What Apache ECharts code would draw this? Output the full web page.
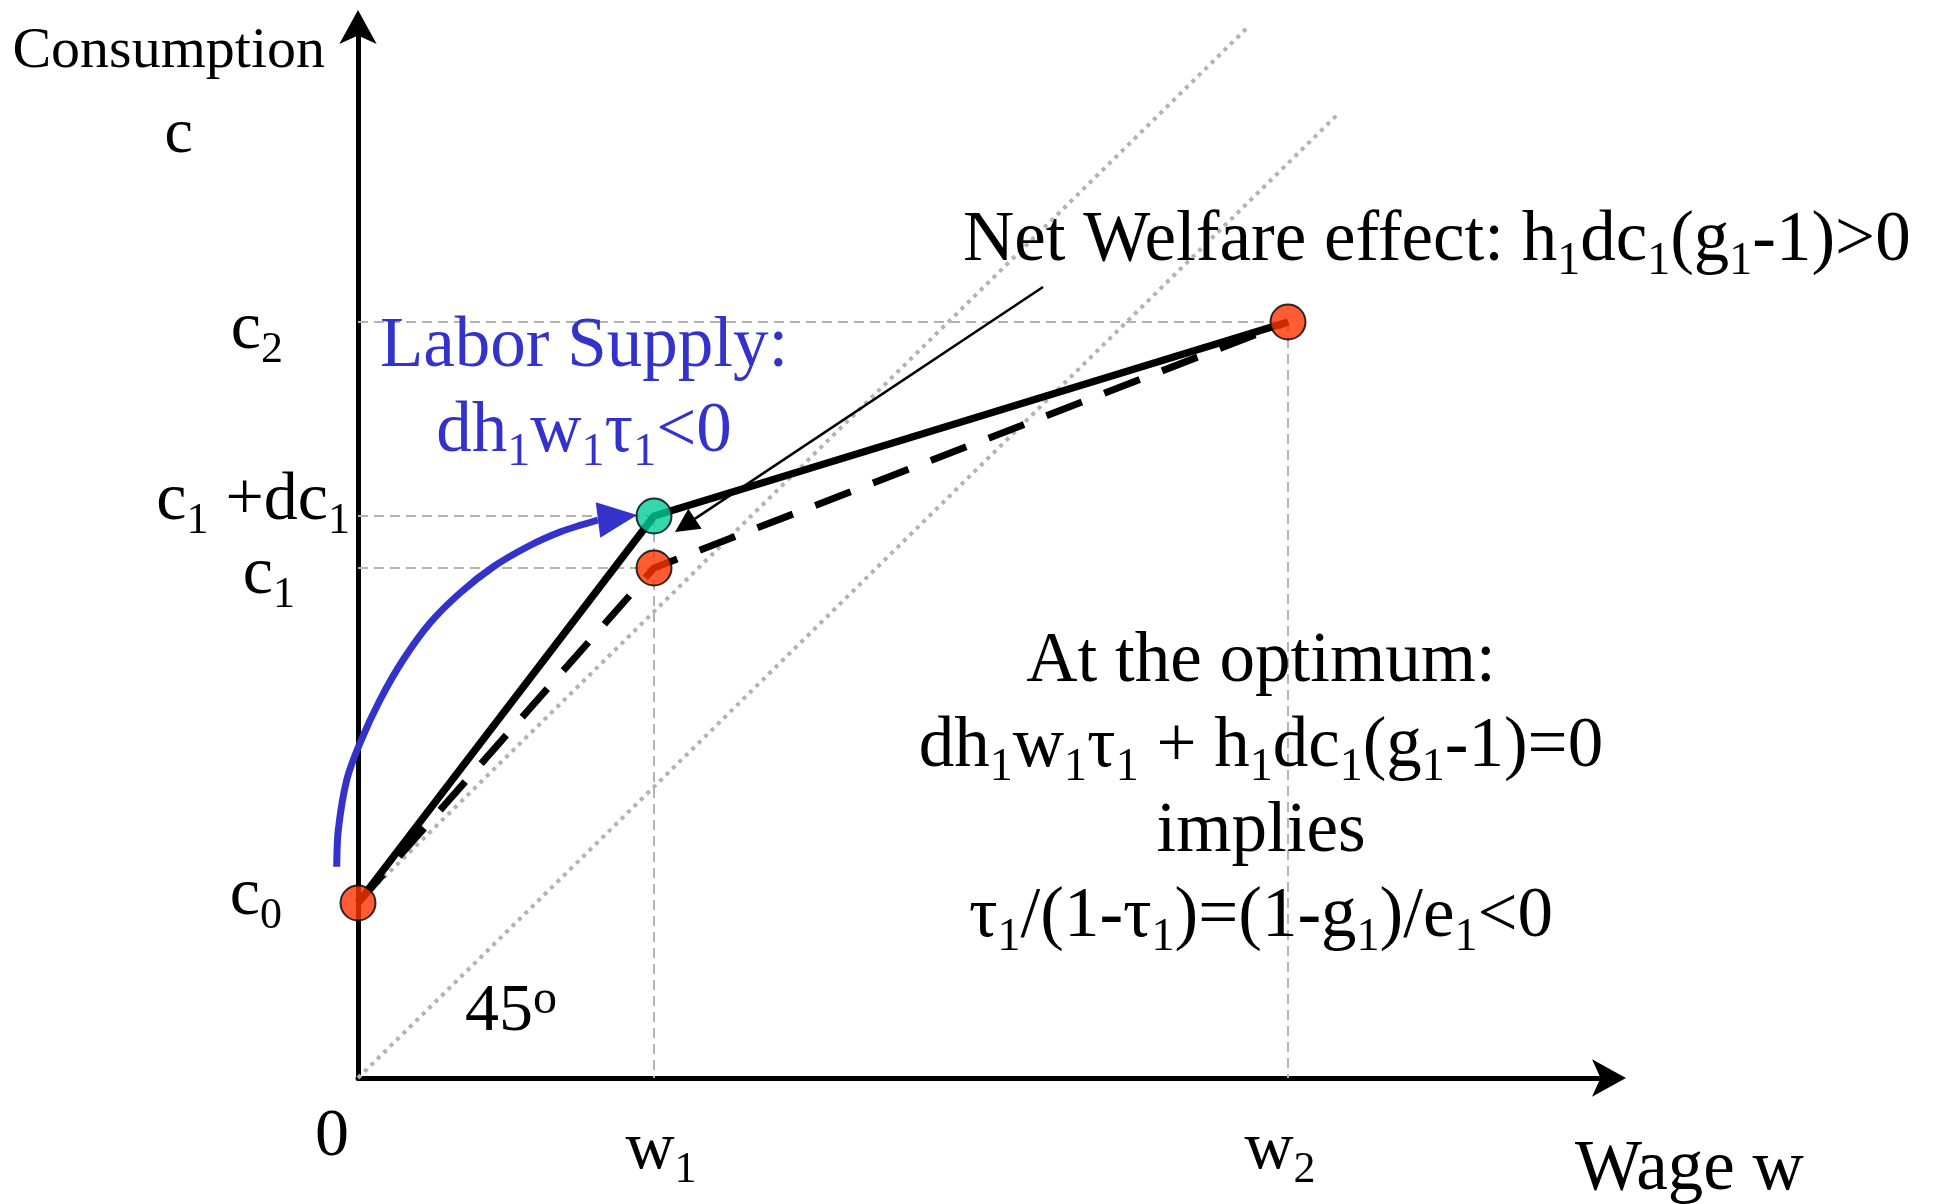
<!DOCTYPE html>
<html><head><meta charset="utf-8">
<script src="https://cdn.jsdelivr.net/npm/echarts@6/dist/echarts.min.js"></script>
<style>html,body{margin:0;padding:0;background:#fff}#c{width:1940px;height:1204px}</style>
</head><body><div id="c"></div>
<script>
// ---------------- data (axis units) ----------------
const wageTicks = [0, 2.96, 9.30];
const wageTickLabels = ['0', 'w_1', 'w_2'];
const consTicks = [1.75, 5.10, 5.62, 7.56];
const consTickLabels = ['c_0', 'c_1', 'c_1 +dc_1', 'c_2'];
const oldSchedule = [[0, 1.75], [2.96, 5.10], [9.30, 7.56]];   // dashed
const newSchedule = [[0, 1.75], [2.96, 5.62], [9.30, 7.56]];   // solid
const redPoints = [[0, 1.75], [2.96, 5.10], [9.30, 7.56]];
const greenPoints = [[2.96, 5.62]];
const line45 = [[0, 0], [9.79, 9.63]];
const lineNoTax = [[0, 1.75], [8.91, 10.52]];
const welfarePointer = [[6.85, 7.91], [3.27, 5.526]];
const laborArc = [[-0.213, 2.113], [-0.197, 2.48], [-0.113, 2.98], [0.02, 3.35], [0.22, 3.78],
  [0.45, 4.18], [0.72, 4.55], [1.02, 4.85], [1.35, 5.11], [1.69, 5.31], [2.02, 5.46], [2.40, 5.58]];
const laborArrowTip = [2.79, 5.63];
const xName = 'Wage w';
const yName = ['Consumption', 'c'];

// ---------------- styling helpers ----------------
const FF = 'Liberation Serif';
const BLUE = '#3333cc';
function toRich(str, m, s) {
  let out = '', buf = '';
  for (let i = 0; i < str.length; i++) {
    if (str[i] === '_') {
      if (buf) { out += '{' + m + '|' + buf + '}'; buf = ''; }
      out += '{' + s + '|' + str[i + 1] + '}'; i++;
    } else if (str[i] === '\n') {
      if (buf) { out += '{' + m + '|' + buf + '}'; buf = ''; }
      out += '\n';
    } else buf += str[i];
  }
  if (buf) out += '{' + m + '|' + buf + '}';
  return out;
}
function mainStyle(color, pt, pb) { return {fontFamily: FF, fontSize: 68, lineHeight: 84, color: color, fill: color, verticalAlign: 'middle', padding: [pt, 0, pb, 0]}; }
function subStyle(color, pt, pb) { return {fontFamily: FF, fontSize: 44, lineHeight: 44, color: color, fill: color, verticalAlign: 'middle', padding: [40 + pt, 0, pb, 0]}; }
function bigMain(color) { return {fontFamily: FF, fontSize: 71, lineHeight: 85, fill: color, color: color, verticalAlign: 'middle'}; }
function bigSub(color) { return {fontFamily: FF, fontSize: 46, lineHeight: 44, fill: color, color: color, verticalAlign: 'middle', padding: [41, 0, 0, 0]}; }
function spacer(w) { return {fontFamily: FF, fontSize: 1, lineHeight: 1, width: w}; }

// per-label layout tweaks (pt = pad top, pb = pad bottom, l/r = spacer widths)
const xLabLayout = [{pt: 0, pb: 0, l: 0, r: 52}, {pt: 27, pb: 0, l: 14, r: 0}, {pt: 27, pb: 0, l: 0, r: 16}];
const yLabLayout = [{pt: 0, pb: 14, r: 68}, {pt: 14, pb: 0, r: 55}, {pt: 0, pb: 30, r: 0}, {pt: 16, pb: 0, r: 67}];
const xRich = {}, yRich = {};
xLabLayout.forEach((o, i) => {
  xRich['x' + i + 'm'] = mainStyle('#000', o.pt, o.pb);
  xRich['x' + i + 's'] = subStyle('#000', o.pt, o.pb);
  xRich['x' + i + 'l'] = spacer(o.l || 1);
  xRich['x' + i + 'r'] = spacer(o.r || 1);
});
yLabLayout.forEach((o, i) => {
  yRich['y' + i + 'm'] = mainStyle('#000', o.pt, o.pb);
  yRich['y' + i + 's'] = subStyle('#000', o.pt, o.pb);
  yRich['y' + i + 'r'] = spacer(o.r || 1);
});

const RICH = {
  m: bigMain('#000'), s: bigSub('#000'),
  bm: bigMain(BLUE), bs: bigSub(BLUE),
  d: mainStyle('#000', 0, 0),
  sup: {fontFamily: FF, fontSize: 48, lineHeight: 48, fill: '#000', verticalAlign: 'middle', padding: [0, 0, 24, 0]}
};

// guide lines built from the points
const allPts = redPoints.concat(greenPoints);
const guides = [];
allPts.forEach(p => { if (p[0] > 0) guides.push({coords: [[0, p[1]], [p[0], p[1]]]}); });
const xs = [...new Set(allPts.filter(p => p[0] > 0).map(p => p[0]))];
xs.forEach(x => {
  const top = Math.max(...allPts.filter(p => p[0] === x).map(p => p[1]));
  guides.push({coords: [[x, top], [x, 0]]});
});

const chart = echarts.init(document.getElementById('c'), null, {renderer: 'canvas'});
chart.setOption({
  animation: false,
  backgroundColor: '#fff',
  grid: {left: 358, top: 25, right: 329, bottom: 126, containLabel: false, outerBoundsMode: 'none'},
  xAxis: {
    type: 'value', min: 0, max: 12.53,
    name: xName, nameLocation: 'end', nameGap: -36, nameMoveOverlap: false,
    nameTextStyle: {fontFamily: FF, fontSize: 71, lineHeight: 84, color: '#000', align: 'left', verticalAlign: 'top', padding: [50, 0, 0, 0]},
    axisLine: {show: true, onZero: false, symbol: ['none', 'arrow'], symbolSize: [28, 34], symbolOffset: [0, 15], lineStyle: {color: '#000', width: 5}},
    axisTick: {show: false}, splitLine: {show: false},
    axisLabel: {
      show: true, customValues: wageTicks, margin: 17, align: 'center', verticalAlign: 'top',
      formatter: function (v) {
        const i = wageTicks.indexOf(v);
        if (i < 0) return '';
        const o = xLabLayout[i];
        return (o.l ? '{x' + i + 'l| }' : '') + toRich(wageTickLabels[i], 'x' + i + 'm', 'x' + i + 's') + (o.r ? '{x' + i + 'r| }' : '');
      },
      rich: xRich
    }
  },
  yAxis: {
    type: 'value', min: 0, max: 10.53,
    name: '{cn|' + yName[0] + '}\n{cc|' + yName[1] + '}', nameLocation: 'end', nameGap: 8, nameMoveOverlap: false,
    nameTextStyle: {align: 'right', verticalAlign: 'top', padding: [0, 33, 0, 0],
      rich: {
        cn: {fontFamily: FF, fontSize: 58, lineHeight: 70, color: '#000'},
        cc: {fontFamily: FF, fontSize: 64, lineHeight: 97, color: '#000', align: 'center', padding: [0, 0, 0, 20]}
      }},
    axisLine: {show: true, onZero: false, symbol: ['none', 'arrow'], symbolSize: [28, 34], symbolOffset: [0, 15], lineStyle: {color: '#000', width: 5}},
    axisTick: {show: false}, splitLine: {show: false},
    axisLabel: {
      show: true, customValues: consTicks, margin: 8, align: 'right', verticalAlign: 'middle',
      formatter: function (v) {
        const i = consTicks.indexOf(v);
        if (i < 0) return '';
        const o = yLabLayout[i];
        return toRich(consTickLabels[i], 'y' + i + 'm', 'y' + i + 's') + (o.r ? '{y' + i + 'r| }' : '');
      },
      rich: yRich
    }
  },
  series: [
    {type: 'lines', coordinateSystem: 'cartesian2d', z: 1, silent: true,
      lineStyle: {color: '#b3b3b3', width: 2, type: [10, 6], opacity: 1, curveness: 0},
      data: guides},
    {type: 'line', data: line45, symbol: 'none', z: 1, silent: true,
      lineStyle: {color: '#b3b3b3', width: 4, type: [4, 5]}},
    {type: 'line', data: lineNoTax, symbol: 'none', z: 1, silent: true,
      lineStyle: {color: '#b3b3b3', width: 4, type: [4, 5]}},
    {type: 'line', data: oldSchedule, symbol: 'none', z: 2, silent: true,
      lineStyle: {color: '#000', width: 7, type: [38, 24]}},
    {type: 'line', data: newSchedule, symbol: 'none', z: 3, silent: true,
      lineStyle: {color: '#000', width: 7.5}},
    {type: 'lines', coordinateSystem: 'cartesian2d', z: 4, silent: true,
      symbol: ['none', 'triangle'], symbolSize: 24,
      itemStyle: {color: '#000'},
      lineStyle: {color: '#000', width: 2.5, opacity: 1, curveness: 0},
      data: [{coords: welfarePointer}]},
    {type: 'custom', coordinateSystem: 'cartesian2d', clip: false, silent: true, z: 4,
      data: [laborArrowTip],
      renderItem: function (params, api) {
        const pts = laborArc.map(p => api.coord(p));
        const tip = api.coord(laborArrowTip);
        const base = pts[pts.length - 1];
        const dx = tip[0] - base[0], dy = tip[1] - base[1];
        const len = Math.hypot(dx, dy);
        const ux = dx / len, uy = dy / len, hw = 18;
        return {type: 'group', children: [
          {type: 'polyline', shape: {points: pts, smooth: 0.3}, style: {stroke: BLUE, lineWidth: 7, fill: 'none'}},
          {type: 'polygon', shape: {points: [tip, [base[0] - uy * hw, base[1] + ux * hw], [base[0] + uy * hw, base[1] - ux * hw]]},
            style: {fill: BLUE, stroke: 'none'}}
        ]};
      }},
    {type: 'scatter', data: redPoints, symbol: 'circle', symbolSize: 35, z: 6, silent: true,
      itemStyle: {color: '#ff3300', borderColor: '#000', borderWidth: 2}},
    {type: 'scatter', data: greenPoints, symbol: 'circle', symbolSize: 35, z: 6, silent: true,
      itemStyle: {color: '#00cc99', borderColor: '#000', borderWidth: 2}}
  ],
  graphic: [
    {type: 'text', x: 963, y: 199, z: 10, silent: true,
      style: {text: toRich('Net Welfare effect: h_1dc_1(g_1-1)>0', 'm', 's'), rich: RICH, fill: '#000', align: 'left', verticalAlign: 'top'}},
    {type: 'text', x: 584, y: 305, z: 10, silent: true,
      style: {text: toRich('Labor Supply:\ndh_1w_1\u03c4_1<0', 'bm', 'bs'), rich: RICH, fill: BLUE, align: 'center', verticalAlign: 'top'}},
    {type: 'text', x: 1261, y: 620, z: 10, silent: true,
      style: {text: toRich('At the optimum:\ndh_1w_1\u03c4_1 + h_1dc_1(g_1-1)=0\nimplies\n\u03c4_1/(1-\u03c4_1)=(1-g_1)/e_1<0', 'm', 's'), rich: RICH, fill: '#000', align: 'center', verticalAlign: 'top'}},
    {type: 'text', x: 465, y: 970, z: 10, silent: true,
      style: {text: '{d|45}{sup|o}', rich: RICH, fill: '#000', align: 'left', verticalAlign: 'top'}}
  ]
});
</script>
</body></html>
